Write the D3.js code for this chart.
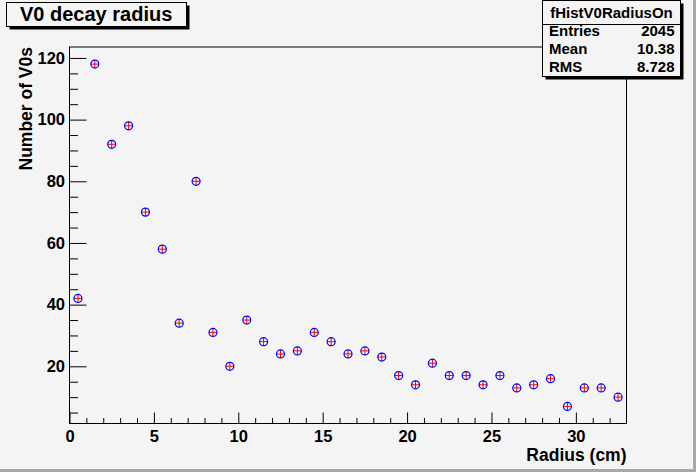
<!DOCTYPE html>
<html><head><meta charset="utf-8">
<script src="https://cdn.jsdelivr.net/npm/d3@7"></script>
<style>body{margin:0;background:#f4f4f4;overflow:hidden}svg{display:block}text{font-family:"Liberation Sans",Arial,sans-serif;font-weight:bold}</style>
</head><body>
<script>
// ---- data ----
const binCenters = [0.5,1.5,2.5,3.5,4.5,5.5,6.5,7.5,8.5,9.5,10.5,11.5,12.5,13.5,14.5,15.5,16.5,17.5,18.5,19.5,20.5,21.5,22.5,23.5,24.5,25.5,26.5,27.5,28.5,29.5,30.5,31.5,32.5];
const counts     = [42,118,92,98,70,58,34,80,31,20,35,28,24,25,31,28,24,25,23,17,14,21,17,17,14,17,13,14,16,7,13,13,10];
const xMajorTicks = [0,5,10,15,20,25,30];
const xMinorTicks = [1,2,3,4,6,7,8,9,11,12,13,14,16,17,18,19,21,22,23,24,26,27,28,29,31,32];
const yMajorTicks = [20,40,60,80,100,120];
const yMinorTicks = [5,10,15,25,30,35,45,50,55,65,70,75,85,90,95,105,110,115];
const titleText = "V0 decay radius";
const xTitle = "Radius (cm)";
const yTitle = "Number of V0s";
const statsName = "fHistV0RadiusOn";
const statsLabels = ["Entries","Mean","RMS"];
const statsValues = ["2045","10.38","8.728"];
const xDomain = [0,33];
const yDomain = [1.45,123.55];

// ---- layout ----
const W = 696, H = 472;
const L = 69.5, R = 626.5, T = 47, B = 423.5;

const svg = d3.select("body").append("svg").attr("width",W).attr("height",H);
svg.append("rect").attr("width",W).attr("height",H).attr("fill","#f4f4f4");
// canvas bevel
svg.append("rect").attr("x",W-3).attr("y",0).attr("width",3).attr("height",H).attr("fill","#a8a8a8");
svg.append("rect").attr("x",0).attr("y",H-3).attr("width",W).attr("height",3).attr("fill","#a8a8a8");

const x = d3.scaleLinear().domain(xDomain).range([L,R]);
const y = d3.scaleLinear().domain(yDomain).range([B,T]);

// frame
svg.append("rect").attr("x",L).attr("y",T).attr("width",R-L).attr("height",B-T)
  .attr("fill","none").attr("stroke","#000").attr("stroke-width",1);

function styleAxis(g){
  g.selectAll(".domain").remove();
  g.selectAll("text").attr("font-size","16.5px").attr("font-family","Liberation Sans, Arial, sans-serif").attr("font-weight","bold").attr("fill","#000");
  g.selectAll("line").attr("stroke","#000");
}

// x axis
const gxMinor = svg.append("g").attr("transform",`translate(0,${B})`)
  .call(d3.axisBottom(x).tickValues(xMinorTicks).tickSize(-5.5).tickFormat(""));
styleAxis(gxMinor);
const gx = svg.append("g").attr("transform",`translate(0,${B})`)
  .call(d3.axisBottom(x).tickValues(xMajorTicks).tickSize(-11).tickPadding(7).tickFormat(d3.format("d")));
styleAxis(gx);

// y axis
const gyMinor = svg.append("g").attr("transform",`translate(${L},0)`)
  .call(d3.axisLeft(y).tickValues(yMinorTicks).tickSize(-8.5).tickFormat(""));
styleAxis(gyMinor);
const gy = svg.append("g").attr("transform",`translate(${L},0)`)
  .call(d3.axisLeft(y).tickValues(yMajorTicks).tickSize(-17).tickPadding(4.5).tickFormat(d3.format("d")));
styleAxis(gy);

// axis titles
svg.append("text").attr("x",R).attr("y",461).attr("text-anchor","end")
  .attr("font-size","17.5px").text(xTitle);
svg.append("text").attr("transform",`translate(32,${T}) rotate(-90)`).attr("text-anchor","end")
  .attr("font-size","17.5px").text(yTitle);

// markers
const pts = svg.append("g");
binCenters.forEach((c,i)=>{
  const px = x(c), py = y(counts[i]);
  pts.append("line").attr("x1",px-4).attr("x2",px+4).attr("y1",py).attr("y2",py).attr("stroke","#ff0000");
  pts.append("line").attr("x1",px).attr("x2",px).attr("y1",py-4).attr("y2",py+4).attr("stroke","#ff0000");
  pts.append("circle").attr("cx",px).attr("cy",py).attr("r",4).attr("fill","none").attr("stroke","#0000ff").attr("stroke-width",1.2);
});

// title box
svg.append("rect").attr("x",9.5).attr("y",5.5).attr("width",180).attr("height",24).attr("fill","#000");
svg.append("rect").attr("x",6.5).attr("y",2.5).attr("width",180).attr("height",24).attr("fill","#f4f4f4").attr("stroke","#000");
svg.append("text").attr("x",20).attr("y",20.5).attr("font-size","20px").text(titleText);

// stats box
const sx = 542.5, sw = 138, sy = 0.5, sh = 76;
svg.append("rect").attr("x",sx+3).attr("y",sy+3).attr("width",sw).attr("height",sh).attr("fill","#000");
svg.append("rect").attr("x",sx).attr("y",sy).attr("width",sw).attr("height",sh).attr("fill","#f4f4f4").attr("stroke","#000");
svg.append("line").attr("x1",sx).attr("x2",sx+sw).attr("y1",24.5).attr("y2",24.5).attr("stroke","#000");
svg.append("text").attr("x",sx+sw/2).attr("y",17.5).attr("text-anchor","middle").attr("font-size","15px").text(statsName);
const rowY = [35.5,54,72];
statsLabels.forEach((lab,i)=>{
  svg.append("text").attr("x",549).attr("y",rowY[i]).attr("font-size","15px").text(lab);
  svg.append("text").attr("x",674.5).attr("y",rowY[i]).attr("text-anchor","end").attr("font-size","15px").text(statsValues[i]);
});
</script>
</body></html>
